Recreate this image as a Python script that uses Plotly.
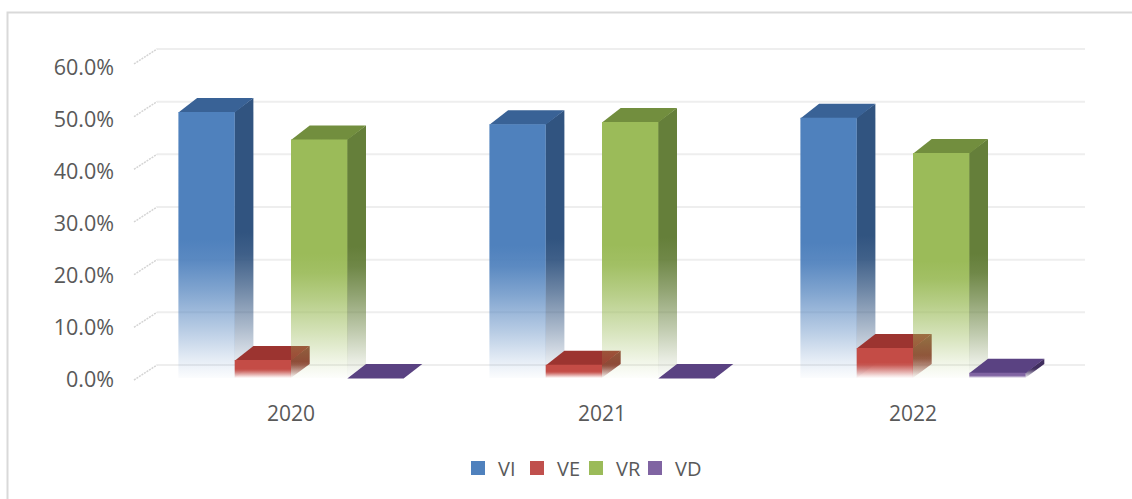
import plotly.graph_objects as go

# ---- data ----
years = ["2020", "2021", "2022"]
series_names = ["VI", "VE", "VR", "VD"]
VI = [50.5, 48.2, 49.4]
VE = [3.4, 2.5, 5.7]
VR = [45.3, 48.6, 42.7]
VD = [0.0, 0.0, 1.0]
tick_values = [0, 10, 20, 30, 40, 50, 60]
tick_labels = ["0.0%", "10.0%", "20.0%", "30.0%", "40.0%", "50.0%", "60.0%"]

series_values = [VI, VE, VR, VD]
front_rgb = [(79, 129, 189), (196, 76, 70), (155, 187, 89), (128, 100, 162)]
side_rgb = [(49, 84, 128), (140, 58, 50), (101, 127, 58), (64, 46, 94)]
top_rgb = [(57, 98, 150), (156, 52, 48), (114, 142, 62), (90, 66, 130)]
legend_colors = ["#4f81bd", "#c0504d", "#9bbb59", "#8064a2"]

# ---- geometry (in axis units) ----
W, H = 1132, 499
L, R, T, B = 120, 1100, 30, 395
PX_PER_GROUP = 311.0
PX_PER_PCT = 5.267
ZERO_PX = 378.0
CENTER0_PX = 291.0
xrange_ = [(L - CENTER0_PX) / PX_PER_GROUP, (R - CENTER0_PX) / PX_PER_GROUP]
yrange_ = [(ZERO_PX - B) / PX_PER_PCT, (ZERO_PX - T) / PX_PER_PCT]
bar_w = 56.3 / PX_PER_GROUP
depth_x = 18.7 / PX_PER_GROUP
depth_y = 14.0 / PX_PER_PCT
overlap_x = 0.25 / PX_PER_GROUP
overlap_y = 0.6 / PX_PER_PCT
wall_x0 = (157 - CENTER0_PX) / PX_PER_GROUP
wall_x1 = (1085 - CENTER0_PX) / PX_PER_GROUP
wall_stub_x = (134 - CENTER0_PX) / PX_PER_GROUP
wall_y = 13.0 / PX_PER_PCT
stub_base = -2.0 / PX_PER_PCT
LABEL_SQUEEZE = 52.0 / 52.67
LABEL_SHIFT = -0.2


def rgba(c, a):
    return f"rgba({c[0]},{c[1]},{c[2]},{a})"


def fade(c):
    return dict(
        type="vertical",
        colorscale=[
            [0.0, rgba(c, 0.02)],
            [0.07, rgba(c, 0.15)],
            [0.18, rgba(c, 0.4)],
            [0.33, rgba(c, 0.72)],
            [0.44, rgba(c, 0.93)],
            [0.52, rgba(c, 1.0)],
            [1.0, rgba(c, 1.0)],
        ],
    )


fig = go.Figure()

# back wall gridlines + slanted side stubs
gx, gy, sx, sy = [], [], [], []
for v in tick_values:
    gx += [wall_x0, wall_x1, None]
    gy += [v + wall_y, v + wall_y, None]
    sx += [wall_stub_x, wall_x0, None]
    sy += [v + stub_base, v + wall_y, None]
fig.add_trace(go.Scatter(x=gx, y=gy, mode="lines", line=dict(color="#eeeeee", width=2),
                         showlegend=False, hoverinfo="skip"))
fig.add_trace(go.Scatter(x=sx, y=sy, mode="lines", line=dict(color="#d4d4d4", width=1.5, dash="2px,1px"),
                         showlegend=False, hoverinfo="skip"))

# 3-D looking bars
for s, vals in enumerate(series_values):
    for g, v in enumerate(vals):
        x0 = g + (s - 2) * bar_w
        x1 = x0 + bar_w
        # side face
        fig.add_trace(go.Scatter(
            x=[x1 - overlap_x, x1 + depth_x, x1 + depth_x, x1 - overlap_x, x1 - overlap_x],
            y=[0, depth_y, v + depth_y, v, 0],
            mode="lines", line=dict(width=0), fill="toself", fillgradient=fade(side_rgb[s]),
            showlegend=False, hoverinfo="skip"))
        # top face
        fig.add_trace(go.Scatter(
            x=[x0, x1, x1 + depth_x, x0 + depth_x, x0],
            y=[v - overlap_y, v - overlap_y, v + depth_y, v + depth_y, v - overlap_y],
            mode="lines", line=dict(width=0), fill="toself",
            fillcolor=rgba(top_rgb[s], 1),
            showlegend=False, hoverinfo="skip"))
        # front face
        if v > 0:
            fig.add_trace(go.Scatter(
                x=[x0, x1, x1, x0, x0], y=[0, 0, v, v, 0],
                mode="lines", line=dict(width=0), fill="toself",
                fillgradient=fade(front_rgb[s]),
                showlegend=False, hoverinfo="skip",
                name=f"{series_names[s]} {years[g]}"))

# legend entries
for name, col in zip(series_names, legend_colors):
    fig.add_trace(go.Scatter(x=[None], y=[None], mode="markers", name=name,
                             marker=dict(symbol="square", size=14, color=col)))
# blank spacer entry so the last legend label is not clipped
fig.add_trace(go.Scatter(x=[None], y=[None], mode="markers", name=" ",
                         marker=dict(symbol="square", size=14, color="rgba(0,0,0,0)")))

fig.update_layout(
    width=W, height=H, autosize=False,
    margin=dict(l=L, r=W - R, t=T, b=H - B, pad=0),
    paper_bgcolor="white", plot_bgcolor="white",
    font=dict(family="Open Sans", size=21, color="#595959"),
    showlegend=True,
    legend=dict(orientation="h", xanchor="left", yanchor="middle",
                x=(458 - L) / (R - L), y=(B - 468) / (B - T),
                entrywidth=14, entrywidthmode="pixels", traceorder="normal",
                font=dict(size=20, color="#595959"), bgcolor="rgba(0,0,0,0)"),
    xaxis=dict(range=xrange_, tickmode="array", tickvals=[0, 1, 2], ticktext=years,
               showgrid=False, zeroline=False, showline=False, ticks="", ticklabelstandoff=4,
               tickfont=dict(size=21, color="#595959"), fixedrange=True),
    yaxis=dict(range=yrange_, tickmode="array",
               tickvals=[t * LABEL_SQUEEZE + LABEL_SHIFT for t in tick_values], ticktext=tick_labels,
               showgrid=False, zeroline=False, showline=False, ticks="",
               ticklabelstandoff=5,
               tickfont=dict(size=21.5, color="#595959"), fixedrange=True),
    shapes=[dict(type="path", xref="paper", yref="paper",
                 path=f"M {(7.5 - L) / (R - L)} {(B - 499) / (B - T)} "
                      f"L {(7.5 - L) / (R - L)} {(B - 12.5) / (B - T)} "
                      f"L {(1132 - L) / (R - L)} {(B - 12.5) / (B - T)}",
                 line=dict(color="#d9d9d9", width=2), layer="below")],
)

fig.write_html("out.html", post_script="document.body.style.margin='0';",
               config={"displayModeBar": False})
